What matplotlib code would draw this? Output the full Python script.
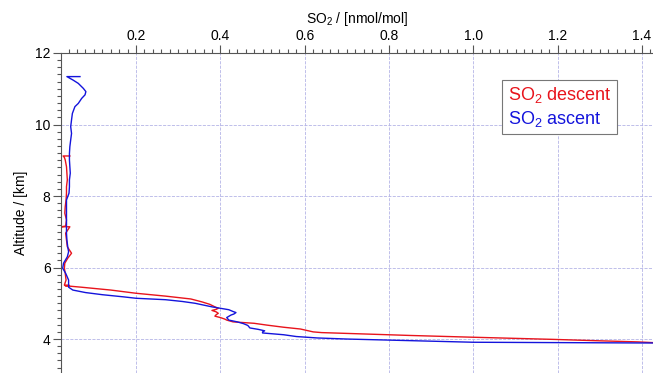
import numpy as np
import matplotlib.pyplot as plt
from matplotlib.ticker import MultipleLocator

plt.rcParams['font.family'] = ['Liberation Sans', 'DejaVu Sans']
plt.rcParams['mathtext.default'] = 'regular'

# descent profile (altitude km, SO2 nmol/mol), top to bottom
alt_descent = [9.12, 9.12, 9.08, 9.01, 8.82, 8.64, 8.45, 8.26, 8.08, 7.89, 7.70, 7.52,
               7.33, 7.16, 7.14, 7.14, 6.96, 6.77, 6.58, 6.40, 6.26, 6.12, 5.98, 5.84,
               5.65, 5.51, 5.50, 5.49, 5.45, 5.37, 5.28, 5.20, 5.12, 5.04, 4.97, 4.90,
               4.86, 4.83, 4.80, 4.76, 4.72, 4.68, 4.64, 4.60, 4.56, 4.53, 4.48, 4.44,
               4.39, 4.33, 4.28, 4.20, 4.18, 4.10, 4.05, 3.99, 3.95, 3.92, 3.90]
so2_descent = [0.043, 0.027, 0.030, 0.032, 0.035, 0.036, 0.037, 0.035, 0.035, 0.034, 0.032, 0.031,
               0.035, 0.033, 0.023, 0.043, 0.033, 0.035, 0.037, 0.047, 0.038, 0.031, 0.030, 0.032,
               0.034, 0.030, 0.042, 0.032, 0.07, 0.14, 0.20, 0.27, 0.33, 0.356, 0.375, 0.387,
               0.395, 0.39, 0.38, 0.39, 0.395, 0.39, 0.387, 0.40, 0.41, 0.415, 0.43, 0.48,
               0.51, 0.55, 0.59, 0.62, 0.64, 0.85, 1.0, 1.19, 1.30, 1.39, 1.425]

# ascent profile, bottom to top
alt_ascent = [3.89, 3.89, 3.90, 3.91, 3.94, 3.97, 4.00, 4.03, 4.07, 4.12, 4.17, 4.20,
              4.23, 4.27, 4.31, 4.38, 4.43, 4.48, 4.53, 4.60, 4.67, 4.70, 4.74, 4.77,
              4.82, 4.86, 4.90, 4.95, 5.00, 5.05, 5.10, 5.14, 5.18, 5.24, 5.30, 5.37,
              5.45, 5.51, 5.65, 5.84, 5.98, 6.12, 6.30, 6.44, 6.58, 6.77, 6.96, 7.14,
              7.33, 7.52, 7.70, 7.89, 8.08, 8.26, 8.45, 8.64, 8.82, 9.01, 9.19, 9.38,
              9.57, 9.75, 9.94, 10.13, 10.31, 10.50, 10.59, 10.73, 10.83, 10.92, 11.01,
              11.15, 11.24, 11.34, 11.34]
so2_ascent = [1.425, 1.40, 1.20, 1.0, 0.90, 0.80, 0.70, 0.63, 0.58, 0.55, 0.50, 0.50,
              0.505, 0.49, 0.47, 0.465, 0.455, 0.44, 0.42, 0.415, 0.425, 0.432, 0.437, 0.43,
              0.42, 0.40, 0.38, 0.36, 0.34, 0.31, 0.27, 0.20, 0.17, 0.12, 0.08, 0.05,
              0.04, 0.040, 0.040, 0.033, 0.026, 0.028, 0.037, 0.040, 0.038, 0.036, 0.035, 0.035,
              0.035, 0.035, 0.035, 0.035, 0.041, 0.042, 0.042, 0.044, 0.043, 0.042, 0.042, 0.043,
              0.045, 0.047, 0.045, 0.047, 0.049, 0.055, 0.063, 0.071, 0.079, 0.081, 0.075,
              0.063, 0.051, 0.036, 0.067]

fig = plt.figure(figsize=(6.53, 3.73), dpi=100)
ax = fig.add_axes([61/653, 0, 1 - 61/653, 320/373])

ax.plot(so2_descent, alt_descent, color='#e8141c', lw=1.0, label='SO$_2$ descent')
ax.plot(so2_ascent, alt_ascent, color='#1414dc', lw=1.0, label='SO$_2$ ascent')

ax.set_xlim(0.022, 1.426)
ax.set_ylim(3.05, 12)

ax.xaxis.tick_top()
ax.xaxis.set_label_position('top')
ax.set_xticks([0.2, 0.4, 0.6, 0.8, 1.0, 1.2, 1.4])
ax.xaxis.set_minor_locator(MultipleLocator(0.02))
ax.set_yticks([4, 6, 8, 10, 12])
ax.yaxis.set_minor_locator(MultipleLocator(0.2))
ax.tick_params(which='both', direction='out', colors='#555555', labelcolor='black',
               labelsize=10, pad=1.5)
ax.tick_params(which='major', length=6, width=0.8)
ax.tick_params(which='minor', length=3, width=0.8)

ax.spines['right'].set_visible(False)
ax.spines['bottom'].set_visible(False)
for s in ['left', 'top']:
    ax.spines[s].set_color('#555555')

ax.grid(True, which='major', linestyle='--', linewidth=0.6, color='#b4b4e6')

ax.set_xlabel('SO$_2$ / [nmol/mol]', fontsize=10, labelpad=4)
ax.set_ylabel('Altitude / [km]', fontsize=10, labelpad=5)

leg = ax.legend(loc='upper right', bbox_to_anchor=(0.954, 0.944), handlelength=0,
                handletextpad=0, labelcolor='linecolor', fontsize=13, fancybox=False,
                framealpha=1, borderpad=0.3, labelspacing=0.2)
leg.get_frame().set_edgecolor('#777777')
leg.get_frame().set_linewidth(0.8)
for h in leg.legend_handles:
    h.set_visible(False)

fig.savefig('out.png', dpi=100)
